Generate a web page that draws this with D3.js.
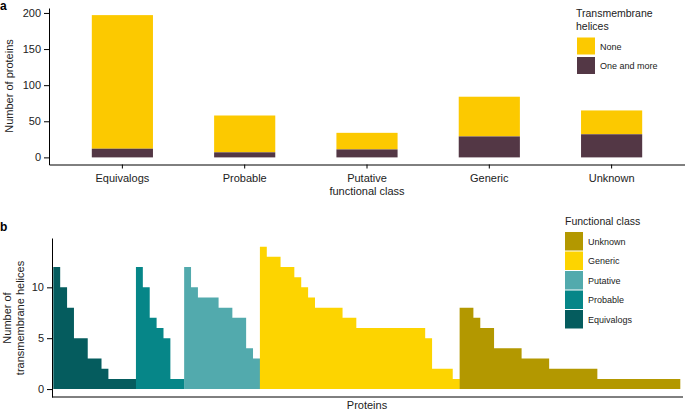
<!DOCTYPE html>
<html>
<head>
<meta charset="utf-8">
<script src="https://cdn.jsdelivr.net/npm/d3@7"></script>
<style>
  body { margin: 0; background: #fff; }
  svg { display: block; font-family: "Liberation Sans", Arial, sans-serif; }
  .tick text { fill: #222; }
</style>
</head>
<body>
<div id="chart"></div>
<script>
// panel a: proteins per functional class
const classesA = ['Equivalogs', 'Probable', 'Putative|functional class', 'Generic', 'Unknown'];
const totalProteins = [197, 58, 34, 84, 65];
const withTM = [12, 7, 11, 29, 32];
const ticksA = [0, 50, 100, 150, 200];

// panel b: TM helices per protein (only proteins with one or more)
const classesB = ['Equivalogs', 'Probable', 'Putative', 'Generic', 'Unknown'];
const equivalogsTM = [12, 10, 8, 5, 5, 3, 3, 2, 1, 1, 1, 1];
const probableTM = [12, 10, 7, 6, 5, 1, 1];
const putativeTM = [12, 10, 9, 9, 9, 8, 8, 7, 7, 4, 3];
const genericTM = [14, 13, 13, 12, 12, 11, 10, 9, 8, 8, 8, 8, 7, 7,
                   6, 6, 6, 6, 6, 6, 6, 6, 6, 6, 5, 2, 2, 2, 1];
const unknownTM = [8, 8, 7, 6, 6, 4, 4, 4, 4, 3, 3, 3, 3,
                   2, 2, 2, 2, 2, 2, 2, 1, 1, 1, 1, 1, 1, 1, 1, 1, 1, 1, 1];
const ticksB = [0, 5, 10];

const colorsA = { none: '#fcc900', tm: '#533745' };
const colorsB = {
    Equivalogs: '#055c5e', Probable: '#068688', Putative: '#52aaad',
    Generic: '#fdd400', Unknown: '#b39800'
};

const W = 685, H = 411;
const svg = d3.select('#chart').append('svg').attr('width', W).attr('height', H);

// ---------- panel a ----------
const xA = d3.scaleBand().domain(classesA).range([49, 685])
    .paddingInner(0.5).paddingOuter(0.35);
const yA = d3.scaleLinear().domain([-9.85, 206.85]).range([164.5, 8]);

const gA = svg.append('g');
const barsA = classesA.map((c, i) => ({ c, total: totalProteins[i], tm: withTM[i] }));

gA.selectAll('rect.none').data(barsA).enter().append('rect')
    .attr('x', d => xA(d.c)).attr('width', xA.bandwidth())
    .attr('y', d => yA(d.total)).attr('height', d => yA(d.tm) - yA(d.total))
    .attr('fill', colorsA.none);
gA.selectAll('rect.tm').data(barsA).enter().append('rect')
    .attr('x', d => xA(d.c)).attr('width', xA.bandwidth())
    .attr('y', d => yA(d.tm)).attr('height', d => yA(0) - yA(d.tm))
    .attr('fill', colorsA.tm);

const axA = gA.append('g').attr('transform', 'translate(0,164.5)')
    .call(d3.axisBottom(xA).tickSize(4).tickSizeOuter(0).tickFormat(''));
axA.select('.domain').attr('stroke', '#000');
axA.selectAll('.tick').each(function(d) {
    const lines = d.split('|');
    const t = d3.select(this).append('text').attr('fill', '#222')
        .attr('font-size', 11).attr('text-anchor', 'middle');
    lines.forEach((l, k) => t.append('tspan').attr('x', 0).attr('y', 17 + k * 13).text(l));
});

const ayA = gA.append('g').attr('transform', 'translate(49,0)')
    .call(d3.axisLeft(yA).tickValues(ticksA).tickSize(5).tickSizeOuter(0));
ayA.selectAll('text').attr('font-size', 11).attr('x', -8);
ayA.select('.domain').attr('stroke', '#000');

gA.append('text').attr('transform', 'translate(13,86) rotate(-90)')
    .attr('text-anchor', 'middle').attr('font-size', 11).attr('fill', '#222')
    .text('Number of proteins');
svg.append('text').attr('x', 0).attr('y', 10).attr('font-weight', 'bold')
    .attr('font-size', 12).text('a');

// legend a
const legA = svg.append('g').attr('transform', 'translate(576,0)');
legA.append('text').attr('y', 17).attr('font-size', 10.5).attr('fill', '#222').text('Transmembrane');
legA.append('text').attr('y', 30).attr('font-size', 10.5).attr('fill', '#222').text('helices');
[['None', colorsA.none], ['One and more', colorsA.tm]].forEach(([lab, col], i) => {
    legA.append('rect').attr('x', 1).attr('y', 37.5 + i * 19.5).attr('width', 18).attr('height', 17)
        .attr('fill', col);
    legA.append('text').attr('x', 24).attr('y', 49.5 + i * 19.5).attr('font-size', 9)
        .attr('fill', '#222').text(lab);
});

// ---------- panel b ----------
const seriesB = [equivalogsTM, probableTM, putativeTM, genericTM, unknownTM];
let idx = 0;
const groups = seriesB.map((arr, k) => ({
    cls: classesB[k],
    cols: arr.map(v => ({ i: idx++, v }))
}));

const xB = d3.scaleBand().domain(d3.range(idx)).range([53.3, 680]).padding(0);
const yB = d3.scaleLinear().domain([-0.78, 14.85]).range([397, 238]);

// one stepped area per class, so neighbouring columns show no seams
const area = d3.area()
    .curve(d3.curveStepAfter)
    .x(d => d.x).y0(yB(0)).y1(d => yB(d.v));

const gB = svg.append('g');
gB.selectAll('path.cls').data(groups).enter().append('path')
    .attr('class', 'cls')
    .attr('d', g => {
        const pts = g.cols.map(c => ({ x: xB(c.i), v: c.v }));
        const last = g.cols[g.cols.length - 1];
        pts.push({ x: xB(last.i) + xB.bandwidth() + 0.3, v: last.v });
        return area(pts);
    })
    .attr('fill', g => colorsB[g.cls]);

const ayB = gB.append('g').attr('transform', 'translate(52,0)')
    .call(d3.axisLeft(yB).tickValues(ticksB).tickSize(5).tickSizeOuter(0));
ayB.selectAll('text').attr('font-size', 11).attr('x', -8);
ayB.select('.domain').attr('stroke', '#000');
gB.append('line').attr('x1', 52).attr('x2', 683).attr('y1', 397).attr('y2', 397)
    .attr('stroke', '#000');

gB.append('text').attr('x', 367).attr('y', 409).attr('text-anchor', 'middle')
    .attr('font-size', 11).attr('fill', '#222').text('Proteins');
const ytB = gB.append('text').attr('transform', 'translate(0,318) rotate(-90)')
    .attr('text-anchor', 'middle').attr('font-size', 11).attr('fill', '#222');
ytB.append('tspan').attr('x', 0).attr('y', 11).text('Number of');
ytB.append('tspan').attr('x', 0).attr('y', 24).text('transmembrane helices');
svg.append('text').attr('x', 0).attr('y', 231).attr('font-weight', 'bold')
    .attr('font-size', 12).text('b');

// legend b
const legB = svg.append('g').attr('transform', 'translate(565,0)');
legB.append('text').attr('y', 225).attr('font-size', 10.5).attr('fill', '#222').text('Functional class');
classesB.slice().reverse().forEach((c, i) => {
    legB.append('rect').attr('x', 0).attr('y', 232 + i * 19.5).attr('width', 18).attr('height', 18.5)
        .attr('fill', colorsB[c]);
    legB.append('text').attr('x', 23).attr('y', 244.5 + i * 19.5).attr('font-size', 9)
        .attr('fill', '#222').text(c);
});
</script>
</body>
</html>
